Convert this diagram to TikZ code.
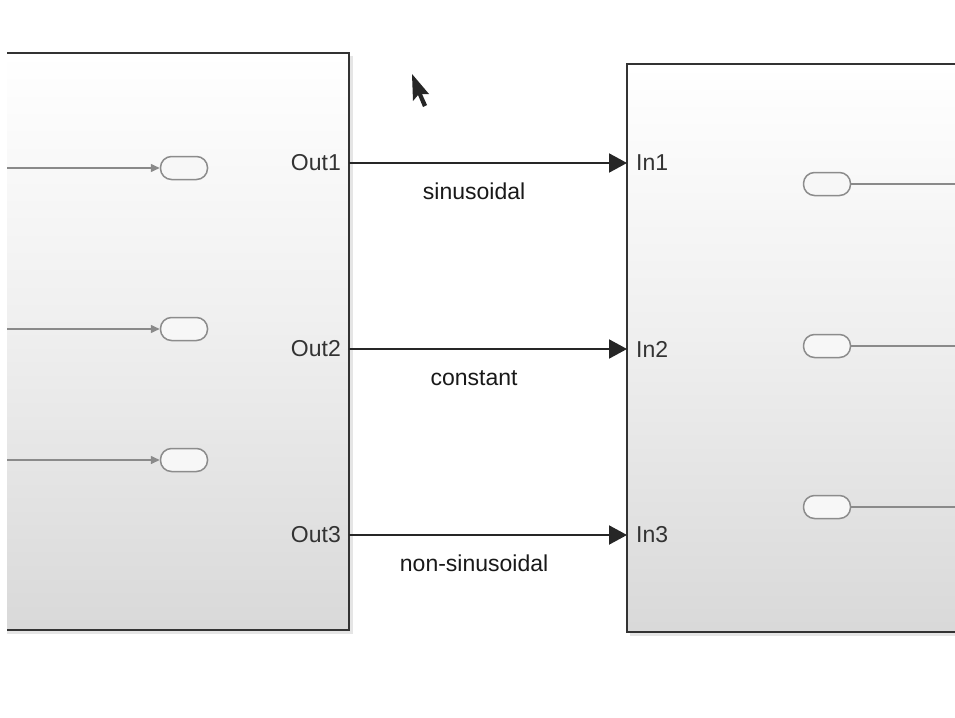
\documentclass[tikz,border=0pt]{standalone}
\usepackage{fontspec}
\setmainfont{Liberation Sans}
\usetikzlibrary{arrows.meta}
\definecolor{edge}{HTML}{333333}
\definecolor{wire}{HTML}{8A8A8A}
\pgfdeclareverticalshading{blockfade}{100bp}{color(0bp)=(black!15); color(25bp)=(black!15); color(52bp)=(black!6); color(75bp)=(white); color(100bp)=(white)}
\tikzset{
  sig/.style={draw=black!85, line width=2pt, -{Triangle[length=18pt,width=19pt]}},
  inwire/.style={draw=wire, line width=1.5pt},
  portpill/.style={draw=black!45, fill=black!3, line width=1.5pt, rounded corners=11pt,
    minimum width=47pt, minimum height=23pt, inner sep=0pt},
  portname/.style={font=\fontsize{23}{26}\selectfont, text=edge, inner sep=0pt},
  siglabel/.style={font=\fontsize{23}{26}\selectfont, text=black!90, inner sep=0pt,
    text height=17pt, text depth=0pt}
}
\begin{document}
\begin{tikzpicture}[x=1pt,y=-1pt]
\useasboundingbox[fill=white] (0,0) rectangle (955,717);
% shadows and blocks
\fill[black!10] (7,56) rectangle (353,634);
\fill[black!10] (630,67) rectangle (955,636);
\shade[shading=blockfade] (7,53) rectangle (349,630);
\shade[shading=blockfade] (627,64) rectangle (955,632);
\draw[edge, line width=2.5pt] (7,53) -- (349,53) -- (349,630) -- (7,630);
\draw[edge, line width=2.5pt] (955,64) -- (627,64) -- (627,632) -- (955,632);
% ports of the two blocks
\foreach \n/\y in {1/163,2/349,3/535} {
    \coordinate (o\n) at (349,\y);
    \coordinate (i\n) at (627,\y);
    \node[portname, anchor=east] (out\n) at (341,\y) {Out\n};
    \node[portname, anchor=west] (in\n) at (636,\y) {In\n};
}
\draw[sig] (o1) -- node[siglabel, pos=0.45, below=18pt] (lbl1) {sinusoidal} (i1);
\draw[sig] (o2) -- node[siglabel, pos=0.45, below=18pt] (lbl2) {constant} (i2);
\draw[sig] (o3) -- node[siglabel, pos=0.45, below=18pt] (lbl3) {non-sinusoidal} (i3);
% inside the left block
\foreach \n/\y in {1/168,2/329,3/460} {
    \node[portpill] (src\n) at (184,\y) {};
    \coordinate (srcin\n) at (7,\y);
    \draw[inwire, -{Triangle[length=9pt,width=8pt]}] (srcin\n) -- (src\n);
}
% inside the right block
\foreach \n/\y in {1/184,2/346,3/507} {
    \node[portpill] (snk\n) at (827,\y) {};
    \coordinate (snkout\n) at (955,\y);
    \draw[inwire] (snk\n) -- (snkout\n);
}
% mouse pointer
\fill[black!85] (412,74) -- (413,101) -- (418,95) -- (423,107) -- (427,105) -- (422,94) -- (429,94) -- cycle;
\end{tikzpicture}
\end{document}
